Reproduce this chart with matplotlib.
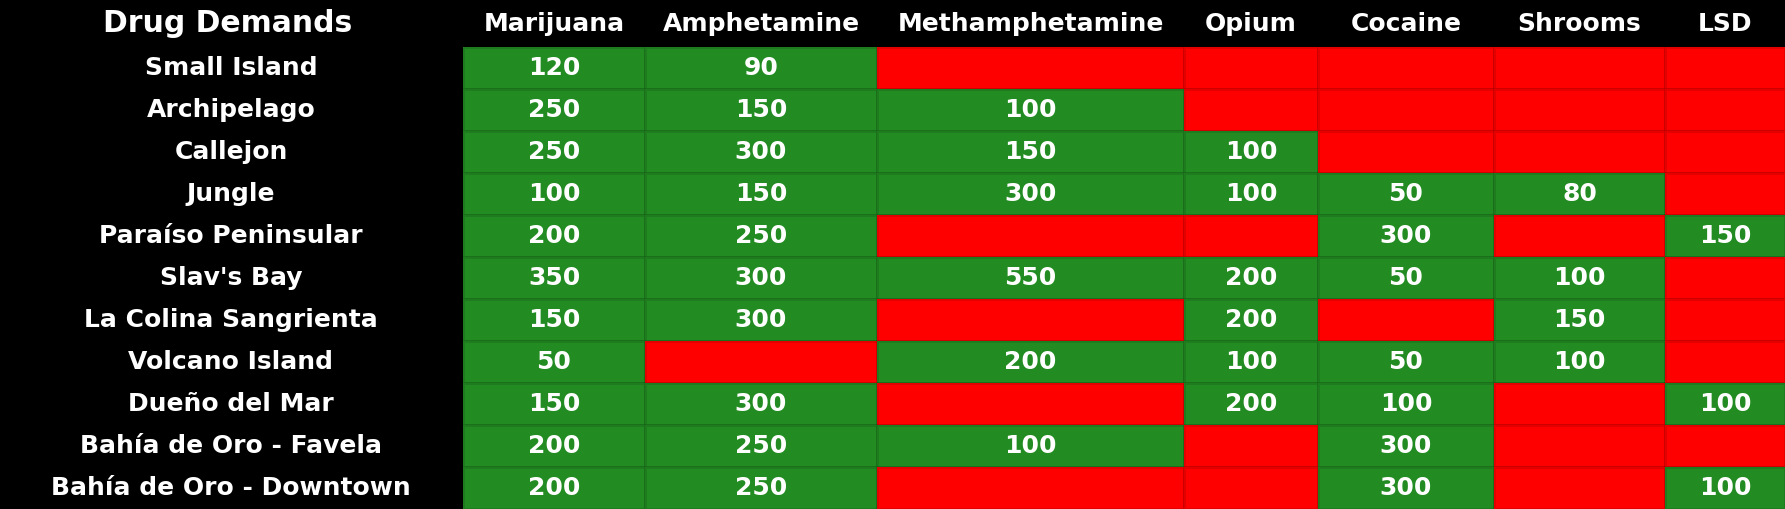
import matplotlib
matplotlib.use('Agg')
import matplotlib.pyplot as plt
from matplotlib.colors import ListedColormap
import numpy as np

plt.rcParams['font.family'] = ['DejaVu Sans']

# data
drugs = ['Marijuana', 'Amphetamine', 'Methamphetamine', 'Opium', 'Cocaine', 'Shrooms', 'LSD']
locations = ['Small Island', 'Archipelago', 'Callejon', 'Jungle', 'Paraíso Peninsular',
             "Slav's Bay", 'La Colina Sangrienta', 'Volcano Island', 'Dueño del Mar',
             'Bahía de Oro - Favela', 'Bahía de Oro - Downtown']
marijuana = [120, 250, 250, 100, 200, 350, 150, 50, 150, 200, 200]
amphetamine = [90, 150, 300, 150, 250, 300, 300, None, 300, 250, 250]
methamphetamine = [None, 100, 150, 300, None, 550, None, 200, None, 100, None]
opium = [None, None, 100, 100, None, 200, 200, 100, 200, None, None]
cocaine = [None, None, None, 50, 300, 50, None, 50, 100, 300, 300]
shrooms = [None, None, None, 80, None, 100, 150, 100, None, None, None]
lsd = [None, None, None, None, 150, None, None, None, 100, None, 100]
columns = [marijuana, amphetamine, methamphetamine, opium, cocaine, shrooms, lsd]

# layout (pixels)
W, H = 1785, 509
col_edges = np.array([463, 645, 877, 1184, 1318, 1494, 1665, 1785])
row_top = 47
row_h = (H - row_top) / len(locations)
row_edges = row_top + row_h * np.arange(len(locations) + 1)

fig = plt.figure(figsize=(W / 100, H / 100), dpi=100)
fig.patch.set_facecolor('black')
ax = fig.add_axes([0, 0, 1, 1])
ax.set_facecolor('black')
ax.set_xlim(0, W)
ax.set_ylim(H, 0)
ax.axis('off')

# green where a demand exists, red where it doesn't
has = np.array([[v is not None for v in col] for col in columns]).T.astype(float)
cmap = ListedColormap(['#ff0000', '#228b22'])
ax.pcolormesh(col_edges, row_edges, has, cmap=cmap, vmin=0, vmax=1,
              edgecolors=(0, 0, 0, 0.1), linewidth=0.8)

font = dict(color='white', fontweight='bold', ha='center', va='center')
x_mid = (col_edges[:-1] + col_edges[1:]) / 2
y_mid = (row_edges[:-1] + row_edges[1:]) / 2

ax.text(228, row_top / 2, 'Drug Demands', fontsize=21.5, **font)
for x, name in zip(x_mid, drugs):
    ax.text(x, row_top / 2, name, fontsize=18, **font)
for y, name in zip(y_mid, locations):
    ax.text(231, y, name, fontsize=18, **font)
for j, col in enumerate(columns):
    for i, v in enumerate(col):
        if v is not None:
            ax.text(x_mid[j], y_mid[i], str(v), fontsize=18, **font)

fig.savefig('out.png', dpi=100, facecolor='black')
